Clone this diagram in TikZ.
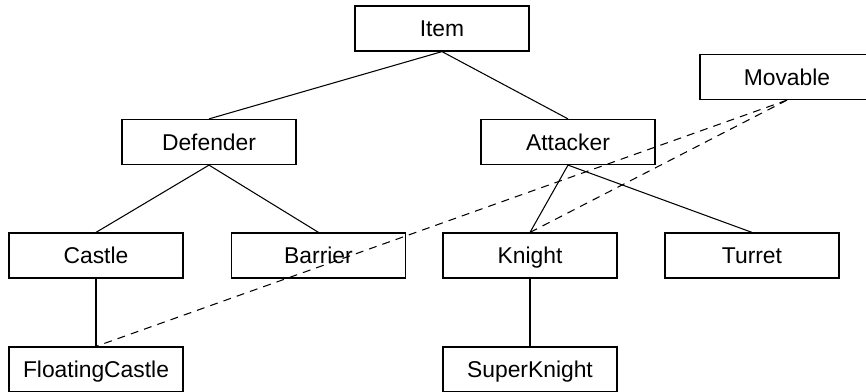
\documentclass[tikz,border=0pt]{standalone}
\usepackage{fontspec}
\setmainfont{Liberation Sans}
\begin{document}
\begin{tikzpicture}[
    x=0.02cm, y=-0.02cm,
    cls/.style={draw, line width=0.7pt, minimum width=3.48cm, minimum height=0.9cm,
        inner sep=0pt, text height=9.5pt, text depth=0pt,
        font=\fontsize{13}{15}\selectfont},
    inherit/.style={line width=0.6pt},
    iface/.style={line width=0.6pt, dash pattern=on 4.5pt off 3.5pt}
]

\clip (0,0) rectangle (866,392);
\useasboundingbox (0,0) rectangle (866,392);

\def\rowA{28.5}   % Item
\def\rowB{142}    % Defender, Attacker
\def\rowC{255.5}  % Castle ... Turret
\def\rowD{369.5}  % FloatingCastle, SuperKnight

\node[cls] (item) at (442,\rowA) {Item};
\node[cls] (movable) at (787,77) {Movable};

\node[cls] (defender) at (209,\rowB) {Defender};
\node[cls] (attacker) at (568,\rowB) {Attacker};

\node[cls] (castle) at (96,\rowC) {Castle};
\node[cls] (barrier) at (318.5,\rowC) {Barrier};
\node[cls] (knight) at (530,\rowC) {Knight};
\node[cls] (turret) at (752,\rowC) {Turret};

\node[cls] (floating) at (96,\rowD) {FloatingCastle};
\node[cls] (superknight) at (530,\rowD) {SuperKnight};

% class tree
\draw[inherit] (item.south) -- (defender.north);
\draw[inherit] (item.south) -- (attacker.north);
\draw[inherit] (defender.south) -- (castle.north);
\draw[inherit] (defender.south) -- (barrier.north);
\draw[inherit] (attacker.south) -- (knight.north);
\draw[inherit] (attacker.south) -- (turret.north);
\draw[inherit] (castle.south) -- (floating.north);
\draw[inherit] (knight.south) -- (superknight.north);

% Movable
\draw[iface] (movable.south) -- (floating.north);
\draw[iface] (movable.south) -- (knight.north);
\end{tikzpicture}
\end{document}
